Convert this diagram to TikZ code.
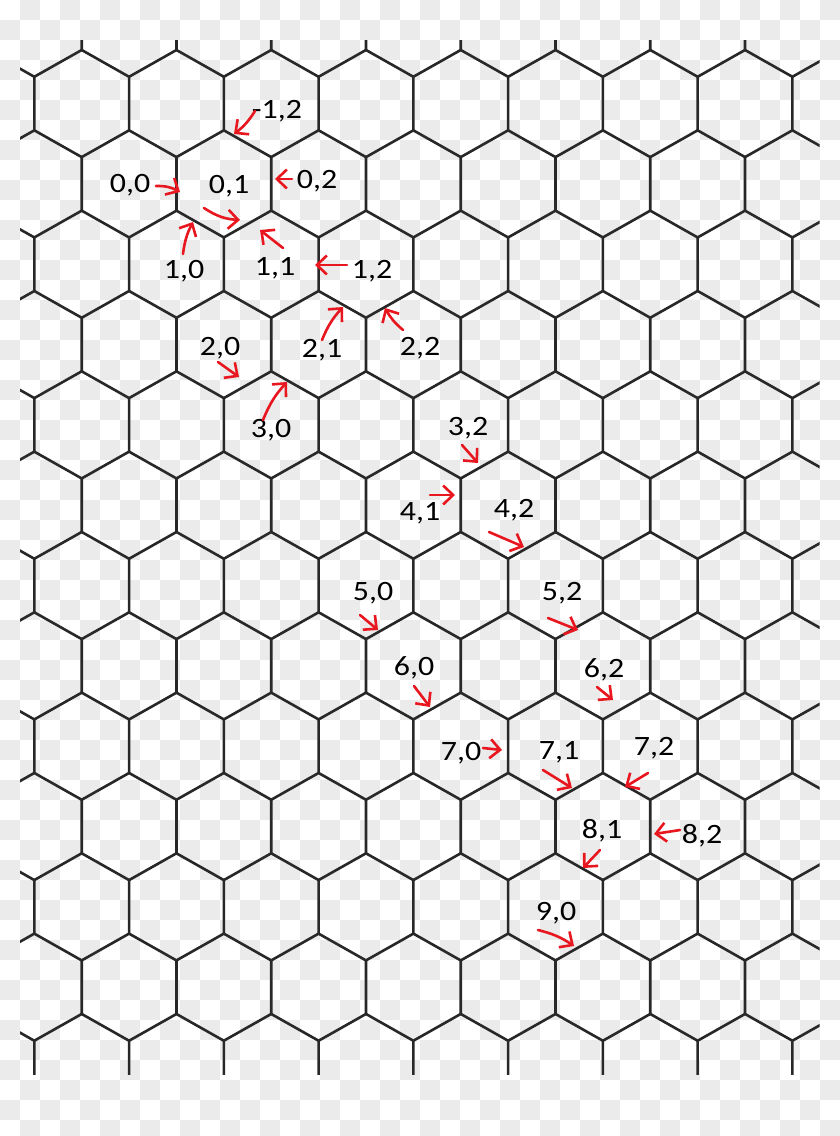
\documentclass[tikz,border=0pt]{standalone}
\usepackage{fontspec}
\newfontfamily\labfont[FakeStretch=1.14]{Carlito}
\usetikzlibrary{arrows.meta}
\definecolor{chk}{RGB}{235,235,235}
\definecolor{gridc}{RGB}{40,40,40}
\definecolor{penred}{RGB}{232,22,30}
\begin{document}
\begin{tikzpicture}[x=1pt,y=-1pt,
  hexline/.style={draw=gridc,line width=2.6pt,line join=round,line cap=round},
  lab/.style={anchor=base,inner sep=0pt,font=\labfont\fontsize{28}{33}\selectfont,text=black},
  redarrow/.style={draw=penred,line width=2.6pt,line cap=round,line join=round,-{Straight Barb[length=10pt,width=19pt]}}]
\useasboundingbox (0,0) rectangle (840,1136);
\fill[white] (0,0) rectangle (840,1136);
% checkerboard background
\begin{scope}
\clip (0,0) rectangle (840,1136);
\foreach \i in {0,2,...,40}{\foreach \j in {1,3,...,55}{\fill[chk] (\i*20,\j*20) rectangle ++(20,20);}}
\foreach \i in {1,3,...,41}{\foreach \j in {0,2,...,56}{\fill[chk] (\i*20,\j*20) rectangle ++(20,20);}}
\end{scope}
% hexagon grid
\begin{scope}
\clip (20,40) rectangle (819.5,1074);
\foreach \r in {-1,...,13}{
  \foreach \k in {-1,...,9}{
    \pgfmathsetmacro\cx{81.7+94.76*\k-47.38*mod(\r+2,2)}
    \pgfmathsetmacro\cy{103.55+80.33*\r}
    \draw[hexline] ({\cx-47.38},{\cy+26.78}) -- ({\cx-47.38},{\cy-26.78}) -- (\cx,{\cy-53.55}) -- ({\cx+47.38},{\cy-26.78});
  }}
\end{scope}
% labels
\node[lab] (lm12) at (277,118) {-1,2};
\node[lab] (l00) at (130,192) {0,0};
\node[lab] (l01) at (229,193) {0,1};
\node[lab] (l02) at (317,188) {0,2};
\node[lab] (l10) at (184,278) {1,0};
\node[lab] (l11) at (275,275) {1,1};
\node[lab] (l12) at (372,278) {1,2};
\node[lab] (l20) at (220,355) {2,0};
\node[lab] (l21) at (322,357) {2,1};
\node[lab] (l22) at (420,355) {2,2};
\node[lab] (l30) at (271,437) {3,0};
\node[lab] (l32) at (468,435) {3,2};
\node[lab] (l41) at (420,520) {4,1};
\node[lab] (l42) at (514,517) {4,2};
\node[lab] (l50) at (373,600) {5,0};
\node[lab] (l52) at (562,600) {5,2};
\node[lab] (l60) at (414,675) {6,0};
\node[lab] (l62) at (604,677) {6,2};
\node[lab] (l70) at (461,760) {7,0};
\node[lab] (l71) at (559,759) {7,1};
\node[lab] (l72) at (654,755) {7,2};
\node[lab] (l81) at (602,838) {8,1};
\node[lab] (l82) at (702,843) {8,2};
\node[lab] (l90) at (556,920) {9,0};
% arrow end points
\coordinate (sm12) at (255,111); \coordinate (tm12) at (234,134);
\coordinate (s00) at (156,186);  \coordinate (t00) at (180,192);
\coordinate (s01) at (204,208);  \coordinate (t01) at (240,220);
\coordinate (s02) at (292,179);  \coordinate (t02) at (275,179);
\coordinate (s10) at (183,254);  \coordinate (t10) at (193,222);
\coordinate (s11) at (283,248);  \coordinate (t11) at (260,230);
\coordinate (s12) at (347,265);  \coordinate (t12) at (315,265);
\coordinate (s20) at (218,362);  \coordinate (t20) at (239,377);
\coordinate (s21) at (322,340);  \coordinate (t21) at (343,307);
\coordinate (s22) at (403,330);  \coordinate (t22) at (385,308);
\coordinate (s30) at (263,420);  \coordinate (t30) at (287,382);
\coordinate (s32) at (462,445);  \coordinate (t32) at (478,463);
\coordinate (s41) at (430,495);  \coordinate (t41) at (455,495);
\coordinate (s42) at (489,532);  \coordinate (t42) at (524,547);
\coordinate (s50) at (360,615);  \coordinate (t50) at (378,630);
\coordinate (s52) at (548,618);  \coordinate (t52) at (578,630);
\coordinate (s60) at (414,686);  \coordinate (t60) at (430,707);
\coordinate (s62) at (597,687);  \coordinate (t62) at (613,700);
\coordinate (s70) at (483,748);  \coordinate (t70) at (502,750);
\coordinate (s71) at (543,770);  \coordinate (t71) at (572,788);
\coordinate (s72) at (648,773);  \coordinate (t72) at (625,787);
\coordinate (s81) at (600,850);  \coordinate (t81) at (583,868);
\coordinate (s82) at (680,830);  \coordinate (t82) at (654,834);
\coordinate (s90) at (538,930);  \coordinate (t90) at (574,946);
% arrows
\draw[redarrow] (sm12) to[bend left=10] (tm12);
\draw[redarrow] (s00) to[bend left=15] (t00);
\draw[redarrow] (s01) to[bend right=15] (t01);
\draw[redarrow] (s02) -- (t02);
\draw[redarrow] (s10) to[bend left=10] (t10);
\draw[redarrow] (s11) -- (t11);
\draw[redarrow] (s12) -- (t12);
\draw[redarrow] (s20) -- (t20);
\draw[redarrow] (s21) to[bend left=10] (t21);
\draw[redarrow] (s22) to[bend left=10] (t22);
\draw[redarrow] (s30) to[bend left=10] (t30);
\draw[redarrow] (s32) -- (t32);
\draw[redarrow] (s41) -- (t41);
\draw[redarrow] (s42) -- (t42);
\draw[redarrow] (s50) -- (t50);
\draw[redarrow] (s52) -- (t52);
\draw[redarrow] (s60) -- (t60);
\draw[redarrow] (s62) -- (t62);
\draw[redarrow] (s70) -- (t70);
\draw[redarrow] (s71) -- (t71);
\draw[redarrow] (s72) -- (t72);
\draw[redarrow] (s81) -- (t81);
\draw[redarrow] (s82) -- (t82);
\draw[redarrow] (s90) to[bend left=10] (t90);
\end{tikzpicture}
\end{document}
